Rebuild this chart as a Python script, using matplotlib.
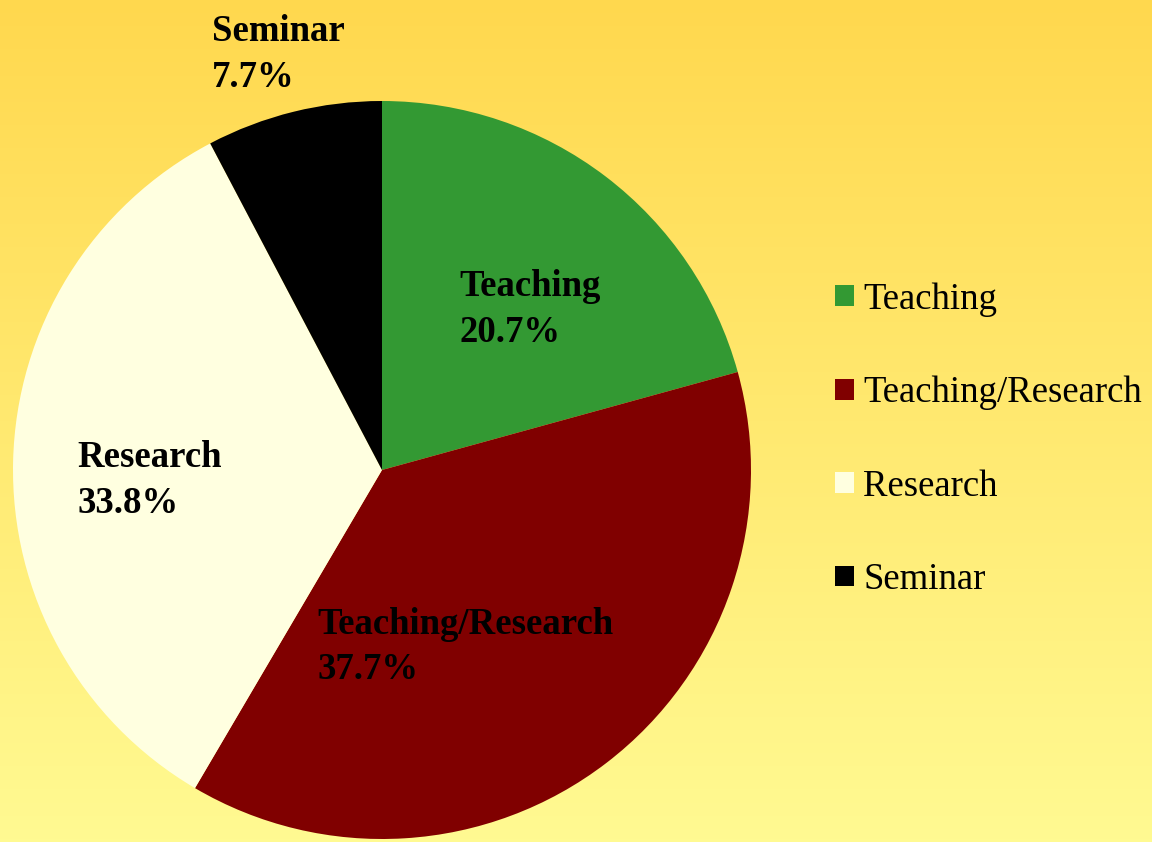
import numpy as np
import matplotlib
matplotlib.use("Agg")
from matplotlib import pyplot as plt
from matplotlib.colors import LinearSegmentedColormap

# data
categories = ["Teaching", "Teaching/Research", "Research", "Seminar"]
shares = [20.7, 37.7, 33.8, 7.7]
colors = ["#339933", "#800000", "#FFFFE0", "#000000"]

# label anchor points (axes data units, top-left of text block)
label_pos = [(0.21, 0.545), (-0.175, -0.37), (-0.825, 0.08), (-0.46, 1.235)]

plt.rcParams['font.family'] = ['Liberation Serif', 'DejaVu Serif']

fig = plt.figure(figsize=(11.52, 8.42), dpi=100)

# gradient background
bg = fig.add_axes([0, 0, 1, 1], zorder=-1)
grad = LinearSegmentedColormap.from_list("bg", ["#FFD84E", "#FFFA92"])
bg.imshow(np.linspace(0, 1, 256).reshape(-1, 1), aspect="auto", cmap=grad,
          extent=[0, 1, 0, 1])
bg.axis("off")

W, H = 1152, 842
cx, cy, r = 382, 470, 369
ax = fig.add_axes([(cx - r) / W, (H - cy - r) / H, 2 * r / W, 2 * r / H])
ax.set_facecolor("none")

wedges, _ = ax.pie(shares, colors=colors, startangle=90, counterclock=False,
                   radius=1, wedgeprops=dict(linewidth=0))
ax.set_xlim(-1, 1)
ax.set_ylim(-1, 1)
ax.set_aspect("equal")
ax.axis("off")

for name, val, (x, y) in zip(categories, shares, label_pos):
    ax.text(x, y, "{}\n{:.1f}%".format(name, val), ha="left", va="top",
            fontsize=26.5, fontweight="bold", color="black", linespacing=1.4,
            clip_on=False)

leg = fig.legend(wedges, categories, loc="upper left",
                 bbox_to_anchor=(817 / W, 1 - 264 / H), frameon=False,
                 fontsize=26.5, handlelength=0.5, handleheight=0.5,
                 handletextpad=0.25, labelspacing=1.6, borderpad=0)

fig.savefig("out.png", dpi=100)
